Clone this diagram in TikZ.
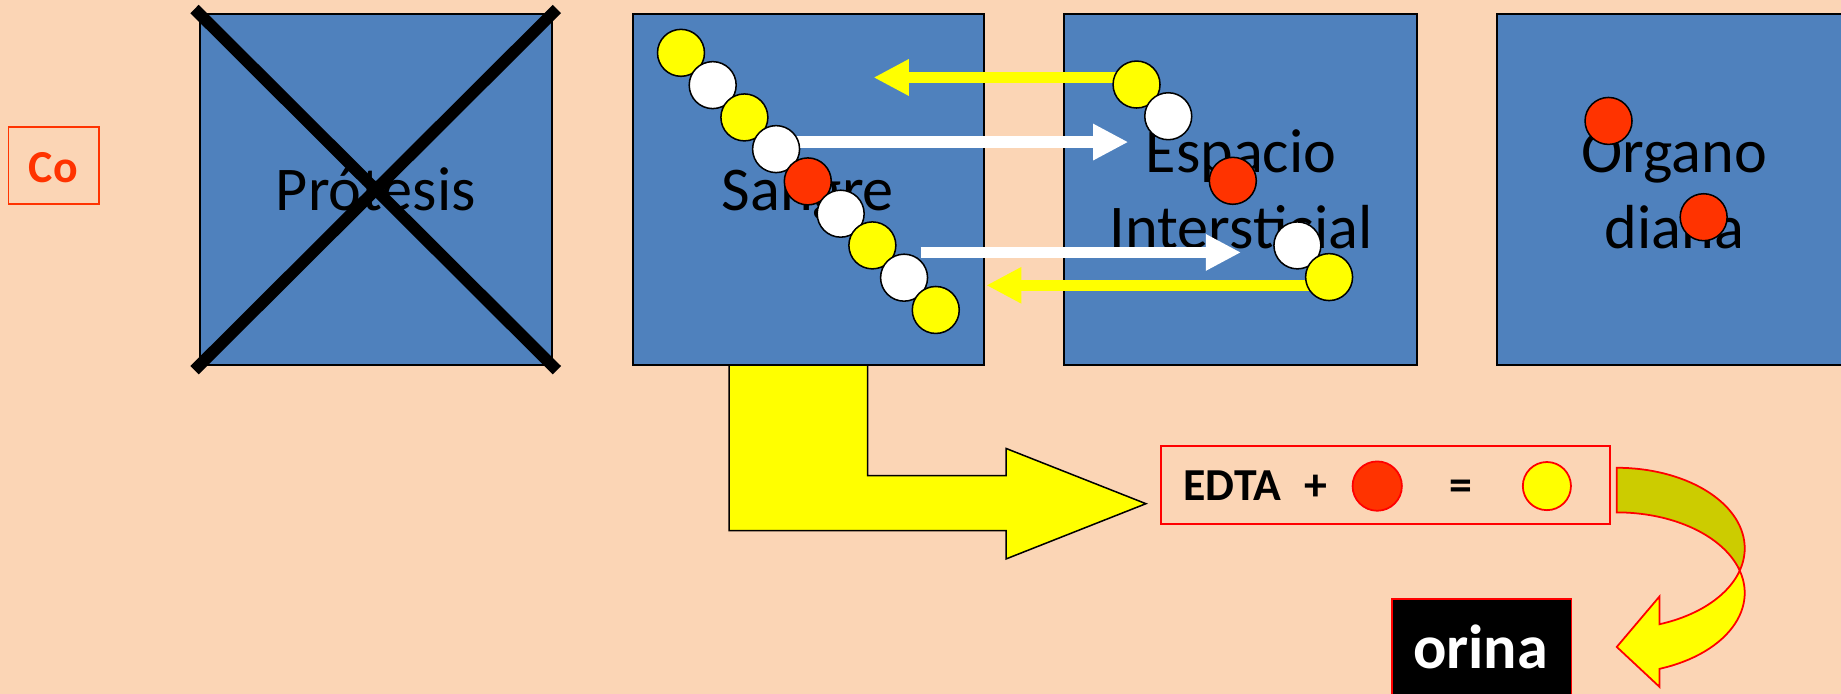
\documentclass[tikz,border=0pt]{standalone}
\usepackage{fontspec}
\setmainfont{Carlito}
\usetikzlibrary{arrows.meta}
\definecolor{bg}{RGB}{251,213,181}
\definecolor{boxblue}{RGB}{79,129,189}
\definecolor{redo}{RGB}{255,51,0}
\definecolor{olivey}{RGB}{204,204,0}
\definecolor{yel}{RGB}{255,255,0}
\definecolor{rd}{RGB}{255,0,0}
\definecolor{wh}{RGB}{255,255,255}
\definecolor{bk}{RGB}{0,0,0}
\tikzset{
  box/.style={draw=bk, line width=1.6pt, fill=boxblue, minimum width=300pt, minimum height=299pt, inner sep=0pt},
  ball/.style={circle, draw=bk, line width=1.3pt, minimum size=40pt, inner sep=0pt},
  bigtxt/.style={font=\fontsize{53pt}{63pt}\selectfont, text=bk, inner sep=0pt, anchor=base},
  boldtxt/.style={font=\fontsize{39pt}{47pt}\selectfont\bfseries, text=bk, inner sep=0pt, anchor=base},
  yarr/.style={draw=yel, line width=9.5pt, -{Triangle[length=30pt,width=29pt]}},
  warr/.style={draw=wh, line width=9.5pt, -{Triangle[length=30pt,width=29pt]}},
  redbox/.style={draw=rd, line width=1.8pt, inner sep=0pt},
  outl/.style={draw=rd, line width=1.5pt}
}
\begin{document}
\begin{tikzpicture}[x=1pt, y=-1pt]
\useasboundingbox (0,0) rectangle (1568,591);
\clip (0,0) rectangle (1568,591);
\fill[bg] (0,0) rectangle (1568,591);

% bent yellow arrow from Sangre to EDTA
\draw[bk, line width=1.3pt, fill=yel] (621,309) -- (739,309) -- (739,405) -- (857,405) -- (857,382) -- (976,429) -- (857,476) -- (857,452) -- (621,452) -- cycle;

% boxes
\node[box] (protesis) at (320,161.5) {};
\node[box, minimum width=299pt] (sangre) at (688.5,161.5) {};
\node[box] (espacio) at (1056.5,161.5) {};
\node[box] (organo) at (1425,161.5) {};

% texts
\node[bigtxt] (tprot) at (320,179.5) {Prótesis};
\node[bigtxt] (tsang) at (688,179.5) {Sangre};
\node[bigtxt] (tesp1) at (1057,147) {Espacio};
\node[bigtxt] (tesp2) at (1057,212) {Intersticial};
\node[bigtxt] (torg1) at (1426,147) {Organo};
\node[bigtxt] (torg2) at (1426,212) {diana};

% cross over Protesis
\draw[bk, line width=10pt, line cap=rect] (protesis.north west) -- (protesis.south east);
\draw[bk, line width=10pt, line cap=rect] (protesis.north east) -- (protesis.south west);

% Co box
\node[draw=redo, line width=1.5pt, minimum width=77pt, minimum height=66pt, inner sep=0pt] (cobox) at (45.75,141) {};
\node[boldtxt, text=redo] (co) at (45.5,155.6) {Co};

% arrow tips
\coordinate (ya1) at (744,66);
\coordinate (wa1) at (961,121);
\coordinate (wa2) at (1057,215);
\coordinate (ya2) at (840,243);

% circle anchors (placed as coordinates first so arrows can be drawn below circles)
\coordinate (e1c) at (968,72);
\coordinate (s4c) at (661,127);
\coordinate (s8c) at (770,236.5);
\coordinate (e5c) at (1132,236);

% arrows (behind circles)
\draw[yarr] ([yshift=6pt]e1c) -- (ya1);
\draw[warr] ([yshift=6pt]s4c) -- (wa1);
\draw[warr] ([xshift=14pt,yshift=21.5pt]s8c) -- (wa2);
\draw[yarr] ([yshift=-7pt]e5c) -- (ya2);

% circles in Sangre
\node[ball, fill=yel] (s1) at (580,45) {};
\node[ball, fill=wh] (s2) at (607,72.5) {};
\node[ball, fill=yel] (s3) at (634,100) {};
\node[ball, fill=wh] (s4) at (s4c) {};
\node[ball, fill=redo] (s5) at (688,154.5) {};
\node[ball, fill=wh] (s6) at (716,182) {};
\node[ball, fill=yel] (s7) at (743,209) {};
\node[ball, fill=wh] (s8) at (s8c) {};
\node[ball, fill=yel] (s9) at (797,264) {};

% circles in Espacio
\node[ball, fill=yel] (e1) at (e1c) {};
\node[ball, fill=wh] (e2) at (995,99) {};
\node[ball, fill=redo] (e3) at (1050,154) {};
\node[ball, fill=wh] (e4) at (1105,209) {};
\node[ball, fill=yel] (e5) at (e5c) {};

% circles in Organo
\node[ball, fill=redo] (o1) at (1370,103) {};
\node[ball, fill=redo] (o2) at (1451,185) {};

% EDTA box
\node[redbox, minimum width=382pt, minimum height=66pt] (edta) at (1180,413) {};
\node[boldtxt] (tedta) at (1049.5,426.4) {EDTA};
\node[boldtxt] (tplus) at (1121,426.4) {+};
\node[boldtxt] (teq) at (1244,426.4) {=};
\node[circle, outl, fill=redo, minimum size=42pt, inner sep=0pt] (rc) at (1173,414) {};
\node[circle, outl, fill=yel, minimum size=41pt, inner sep=0pt] (yc) at (1317.5,414) {};

% curved arrow
\draw[outl, fill=olivey]
  plot[domain=-90:16.1, samples=40] ({1377+109*cos(\x)},{467+68.6*sin(\x)})
  -- plot[domain=-16.1:-90, samples=40] ({1377+109*cos(\x)},{505+68.6*sin(\x)})
  -- cycle;
\draw[outl, fill=yel]
  plot[domain=16.1:70.5, samples=30] ({1377+109*cos(\x)},{467+68.6*sin(\x)})
  -- (1413.4,508) -- (1377,551) -- (1413.4,585)
  -- plot[domain=70.5:-16.1, samples=30] ({1377+109*cos(\x)},{505+68.6*sin(\x)})
  -- cycle;

% orina box
\node[draw=rd, line width=1.5pt, fill=bk, minimum width=153pt, minimum height=110pt, inner sep=0pt] (orina) at (1262,565) {};
\node[font=\fontsize{53pt}{64pt}\selectfont\bfseries, text=wh, inner sep=0pt, anchor=base] (torina) at (1261,569.3) {orina};
\end{tikzpicture}
\end{document}
